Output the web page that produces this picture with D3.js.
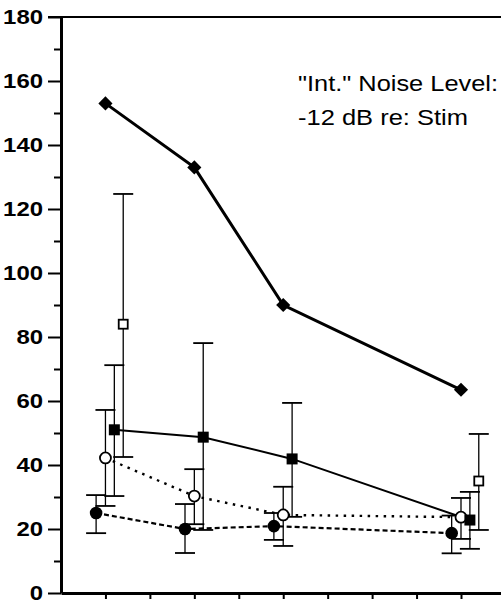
<!DOCTYPE html>
<html>
<head>
<meta charset="utf-8">
<script src="https://cdn.jsdelivr.net/npm/d3@7"></script>
<style>
  html, body { margin: 0; padding: 0; background: #fff; }
  svg { display: block; }
</style>
</head>
<body>
<svg id="chart" width="501" height="601"></svg>
<script>
// Conditions along the x axis
const positions = [1, 3, 5, 9];

// Diamond series (no error bars)
const diamondVals = [153, 133, 90, 63.5];

// Filled squares with error ranges
const fSquareVals = [51, 48.7, 41.9, 22.8];
const fSquareLo   = [30.3, 19.7, 23.8, 13.8];
const fSquareHi   = [71.2, 78.1, 59.4, 31.6];

// Open squares (only two conditions measured)
const oSquareVals = [84, null, null, 35];
const oSquareLo   = [42.5, null, null, 19.7];
const oSquareHi   = [124.7, null, null, 49.7];

// Open circles with error ranges
const oCircleVals = [42.2, 30.3, 24.4, 23.7];
const oCircleLo   = [27.2, 21.5, 14.7, 16.9];
const oCircleHi   = [57.2, 38.7, 33.2, 29.7];

// Filled circles with error ranges
const fCircleVals = [25, 20, 20.9, 18.7];
const fCircleLo   = [18.7, 12.5, 16.6, 12.4];
const fCircleHi   = [30.6, 27.8, 25, 24.2];

// Axis ticks
const yMajorTicks = [0, 20, 40, 60, 80, 100, 120, 140, 160, 180];
const yMinorTicks = [10, 30, 50, 70, 90, 110, 130, 150, 170];
const xTicks = [1, 2, 3, 4, 5, 6, 7, 8, 9];

const noteLines = ['"Int." Noise Level:', '-12 dB re: Stim'];
const noteWidths = [200, 170];

const svg = d3.select("#chart");
const font = "'Liberation Sans', Arial, Helvetica, sans-serif";

const x = d3.scaleLinear().domain([0, 9.9]).range([61, 501]);
const y = d3.scaleLinear().domain([0, 180]).range([593, 17]);

// Horizontal offsets so the series sit side by side at each condition
const offs = { fCircle: -0.21, oCircle: 0, diamond: 0, fSquare: 0.2, oSquare: 0.4 };

function rows(vals, lo, hi, off) {
  return positions.map((p, i) => ({
    x: p + off, v: vals[i],
    lo: lo ? lo[i] : null, hi: hi ? hi[i] : null
  })).filter(d => d.v != null);
}

const dDiamond = rows(diamondVals, null, null, offs.diamond);
const dFSquare = rows(fSquareVals, fSquareLo, fSquareHi, offs.fSquare);
const dOSquare = rows(oSquareVals, oSquareLo, oSquareHi, offs.oSquare);
const dOCircle = rows(oCircleVals, oCircleLo, oCircleHi, offs.oCircle);
const dFCircle = rows(fCircleVals, fCircleLo, fCircleHi, offs.fCircle);

// Top frame line
svg.append("line")
  .attr("x1", 48).attr("x2", 501)
  .attr("y1", y(180)).attr("y2", y(180))
  .attr("stroke", "#000").attr("stroke-width", 2.2);

// Y axis: major ticks with labels (slightly widened glyphs)
const labelStretch = 1.14;
const yAxis = svg.append("g")
  .attr("transform", `translate(${x(0)},0)`)
  .call(d3.axisLeft(y).tickValues(yMajorTicks).tickSize(13).tickSizeOuter(0));
yAxis.select(".domain").attr("stroke-width", 3);
yAxis.selectAll(".tick line").attr("stroke-width", 2);
yAxis.selectAll(".tick text")
  .attr("font-family", font).attr("font-size", 21).attr("font-weight", "bold")
  .attr("fill", "#000")
  .attr("x", -18 / labelStretch)
  .attr("dy", "0.3em")
  .attr("transform", `scale(${labelStretch},1)`);

// Y axis: minor ticks
const yMinor = svg.append("g")
  .attr("transform", `translate(${x(0)},0)`)
  .call(d3.axisLeft(y).tickValues(yMinorTicks).tickSize(7).tickFormat(""));
yMinor.select(".domain").remove();
yMinor.selectAll(".tick line").attr("stroke-width", 2);

// X axis
const xAxis = svg.append("g")
  .attr("transform", `translate(0,${y(0)})`)
  .call(d3.axisBottom(x).tickValues(xTicks).tickSize(6).tickFormat("").tickSizeOuter(0));
xAxis.select(".domain").attr("stroke-width", 3);
xAxis.selectAll(".tick line").attr("stroke-width", 2);

// Connecting lines
const line = d3.line().x(d => x(d.x)).y(d => y(d.v));

svg.append("path").datum(dFCircle).attr("d", line)
  .attr("fill", "none").attr("stroke", "#000").attr("stroke-width", 2.2)
  .attr("stroke-dasharray", "5,3");
svg.append("path").datum(dOCircle).attr("d", line)
  .attr("fill", "none").attr("stroke", "#000").attr("stroke-width", 2.4)
  .attr("stroke-dasharray", "2.5,5.5");
svg.append("path").datum(dFSquare).attr("d", line)
  .attr("fill", "none").attr("stroke", "#000").attr("stroke-width", 2);
svg.append("path").datum(dDiamond).attr("d", line)
  .attr("fill", "none").attr("stroke", "#000").attr("stroke-width", 3);

// Error bars
function errorBars(data) {
  const g = svg.append("g").attr("stroke", "#000").attr("stroke-width", 1.3);
  data.forEach(d => {
    g.append("line").attr("x1", x(d.x)).attr("x2", x(d.x))
      .attr("y1", y(d.lo)).attr("y2", y(d.hi));
    [d.lo, d.hi].forEach(v => {
      g.append("line").attr("x1", x(d.x) - 10).attr("x2", x(d.x) + 10)
        .attr("y1", y(v)).attr("y2", y(v)).attr("stroke-width", 1.8);
    });
  });
}
errorBars(dFCircle);
errorBars(dOCircle);
errorBars(dFSquare);
errorBars(dOSquare);

// Markers
svg.append("g").selectAll("circle").data(dFCircle).join("circle")
  .attr("cx", d => x(d.x)).attr("cy", d => y(d.v)).attr("r", 6.3)
  .attr("fill", "#000");
svg.append("g").selectAll("circle").data(dOCircle).join("circle")
  .attr("cx", d => x(d.x)).attr("cy", d => y(d.v)).attr("r", 5.5)
  .attr("fill", "#fff").attr("stroke", "#000").attr("stroke-width", 1.8);
svg.append("g").selectAll("rect").data(dFSquare).join("rect")
  .attr("x", d => x(d.x) - 5.5).attr("y", d => y(d.v) - 5.5)
  .attr("width", 11).attr("height", 11).attr("fill", "#000");
svg.append("g").selectAll("rect").data(dOSquare).join("rect")
  .attr("x", d => x(d.x) - 4.5).attr("y", d => y(d.v) - 4.5)
  .attr("width", 9).attr("height", 9)
  .attr("fill", "#fff").attr("stroke", "#000").attr("stroke-width", 1.8);
svg.append("g").selectAll("path").data(dDiamond).join("path")
  .attr("d", d3.symbol(d3.symbolSquare, 100))
  .attr("transform", d => `translate(${x(d.x)},${y(d.v)}) rotate(45)`)
  .attr("fill", "#000");

// Annotation
const note = svg.append("g").attr("transform", "translate(298,91)");
noteLines.forEach((t, i) => {
  note.append("text")
    .attr("font-family", font).attr("font-size", 22.5).attr("fill", "#000")
    .attr("x", 0).attr("y", i * 34)
    .attr("textLength", noteWidths[i])
    .attr("lengthAdjust", "spacingAndGlyphs")
    .text(t);
});
</script>
</body>
</html>
